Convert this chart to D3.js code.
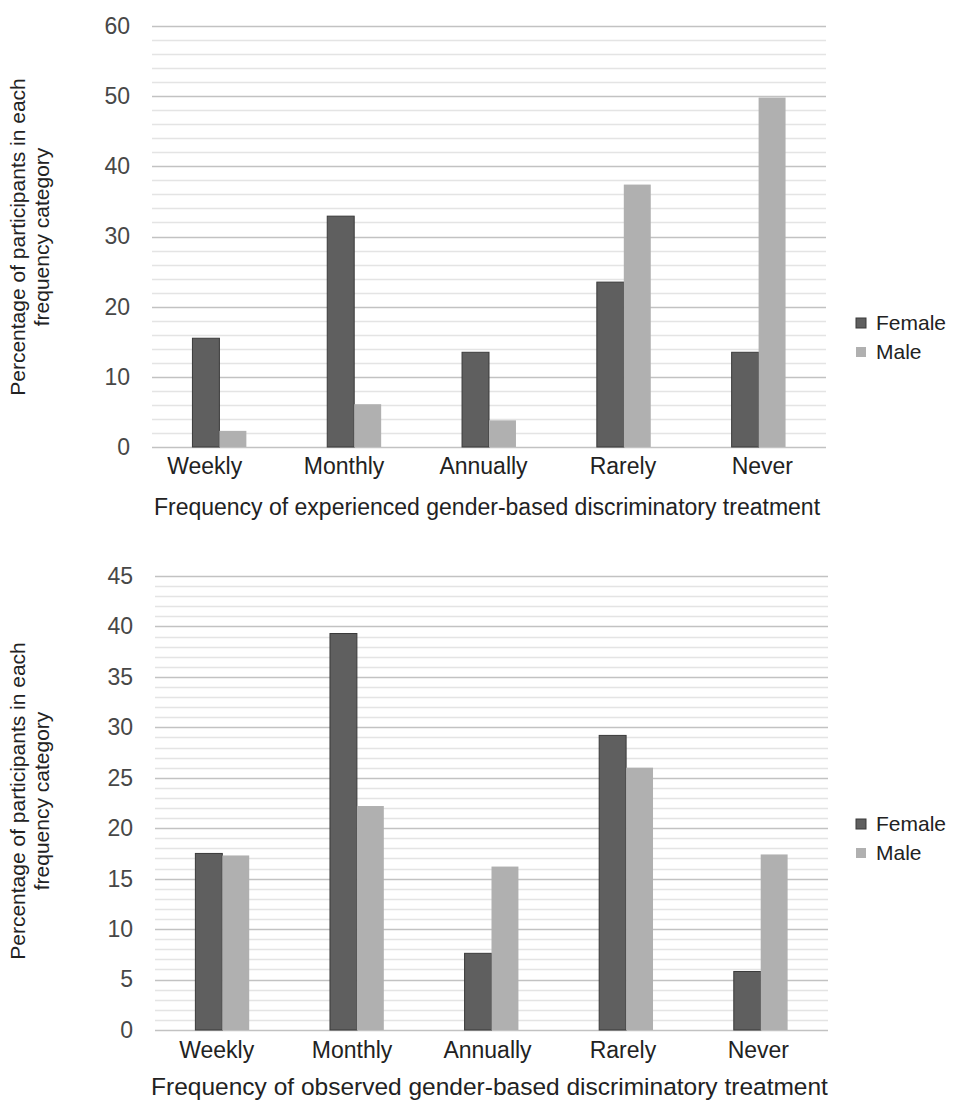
<!DOCTYPE html>
<html><head><meta charset="utf-8">
<script src="https://cdn.jsdelivr.net/npm/d3@7"></script>
<style>
html,body{margin:0;padding:0;background:#fff;}
svg{display:block;font-family:"Liberation Sans",Arial,sans-serif;}
</style></head><body>
<svg id="c" width="974" height="1100"></svg>
<script>
const categories = ["Weekly","Monthly","Annually","Rarely","Never"];
const seriesNames = ["Female","Male"];
const experiencedFemale = [15.5, 32.9, 13.5, 23.5, 13.5];
const experiencedMale = [2.3, 6.1, 3.8, 37.4, 49.8];
const observedFemale = [17.5, 39.3, 7.6, 29.2, 5.8];
const observedMale = [17.3, 22.2, 16.2, 26.0, 17.4];
const experiencedTicks = [0,10,20,30,40,50,60];
const observedTicks = [0,5,10,15,20,25,30,35,40,45];
const yTitleLines = ["Percentage of participants in each","frequency category"];
const xTitles = ["Frequency of experienced gender-based discriminatory treatment","Frequency of observed gender-based discriminatory treatment"];

const colors = {Female:"#5f5f5f", Male:"#b0b0b0"};
const svg = d3.select("#c");
const FONT = "'Liberation Sans',Arial,sans-serif";

function drawChart(cfg){
  const {female, male, ticks, minorStep, x0, x1, yTop, yBase, max, title, titleY, titleSize, labelY, labelRange, legendY, yTitleCenter} = cfg;
  const g = svg.append("g");
  const x = d3.scaleBand().domain(categories).range([x0, x1]);
  const xl = d3.scaleBand().domain(categories).range(labelRange);
  const y = d3.scaleLinear().domain([0, max]).range([yBase, yTop]);
  const bw = x.bandwidth();
  const xs = d3.scaleBand().domain(seriesNames).range([-bw*0.2, bw*0.2]);

  // minor grid
  const minor = d3.range(0, max + 0.001, minorStep).filter(v => !ticks.includes(v));
  g.selectAll("line.minor").data(minor).join("line")
    .attr("x1", x0).attr("x2", x1)
    .attr("y1", d => Math.round(y(d))+0.5).attr("y2", d => Math.round(y(d))+0.5)
    .attr("stroke", "#e4e4e4").attr("stroke-width", 1.3);
  g.selectAll("line.major").data(ticks).join("line")
    .attr("x1", x0).attr("x2", x1)
    .attr("y1", d => Math.round(y(d))+0.5).attr("y2", d => Math.round(y(d))+0.5)
    .attr("stroke", "#c2c2c2").attr("stroke-width", 1.6);

  const rows = categories.map((c,i)=>({cat:c, Female:female[i], Male:male[i]}));
  const grp = g.selectAll("g.grp").data(rows).join("g")
    .attr("transform", d => `translate(${x(d.cat)+bw/2},0)`);
  grp.selectAll("rect").data(d => seriesNames.map(s => ({s, v:d[s]}))).join("rect")
    .attr("x", d => xs(d.s)).attr("width", xs.bandwidth())
    .attr("y", d => y(d.v)).attr("height", d => yBase - y(d.v))
    .attr("fill", d => colors[d.s])
    .attr("stroke", d => d.s === "Female" ? "#3a3a3a" : "none")
    .attr("stroke-width", 1);

  // y axis
  const ya = d3.axisLeft(y).tickValues(ticks).tickSize(0).tickPadding(0).tickFormat(d3.format("d"));
  const yg = g.append("g").attr("transform", `translate(${x0-22},0)`).call(ya);
  yg.select(".domain").remove();
  yg.selectAll("text").attr("font-size", 23).attr("fill", "#474747").attr("font-family", FONT);

  // x axis labels
  const xa = d3.axisBottom(xl).tickSize(0).tickPadding(0);
  const xg = g.append("g").attr("transform", `translate(0,${labelY})`).call(xa);
  xg.select(".domain").remove();
  xg.selectAll("text").attr("font-size", 23).attr("fill", "#222").attr("dy", 0).attr("font-family", FONT);

  // x title
  g.append("text").attr("x", (x0+x1)/2 - 2).attr("y", titleY).attr("text-anchor","middle")
    .attr("font-size", titleSize).attr("fill", "#222").text(title);

  // y title
  const yt = g.append("text").attr("transform", `translate(0,${yTitleCenter}) rotate(-90)`)
    .attr("text-anchor","middle").attr("font-size", 21).attr("fill","#222");
  yt.append("tspan").attr("x",0).attr("y",25).text(yTitleLines[0]);
  yt.append("tspan").attr("x",0).attr("y",49).text(yTitleLines[1]);

  // legend
  const lg = g.append("g").attr("transform", `translate(856,${legendY})`);
  seriesNames.forEach((s,i) => {
    lg.append("rect").attr("x",0).attr("y", i*29 - 5).attr("width",10).attr("height",10)
      .attr("fill", colors[s]).attr("stroke", s==="Female" ? "#3a3a3a":"none");
    lg.append("text").attr("x",20).attr("y", i*29 + 7).attr("font-size",21).attr("fill","#222").text(s);
  });
}

drawChart({female:experiencedFemale, male:experiencedMale, ticks:experiencedTicks, minorStep:2,
  x0:152, x1:826, yTop:26, yBase:447, max:60, title:xTitles[0], titleY:515, titleSize:23, labelY:474,
  labelRange:[135, 832], legendY:323, yTitleCenter:237});
drawChart({female:observedFemale, male:observedMale, ticks:observedTicks, minorStep:1,
  x0:155, x1:828, yTop:576, yBase:1030, max:45, title:xTitles[1], titleY:1095, titleSize:24.5, labelY:1058,
  labelRange:[149, 826], legendY:824, yTitleCenter:801});
</script>
</body></html>
